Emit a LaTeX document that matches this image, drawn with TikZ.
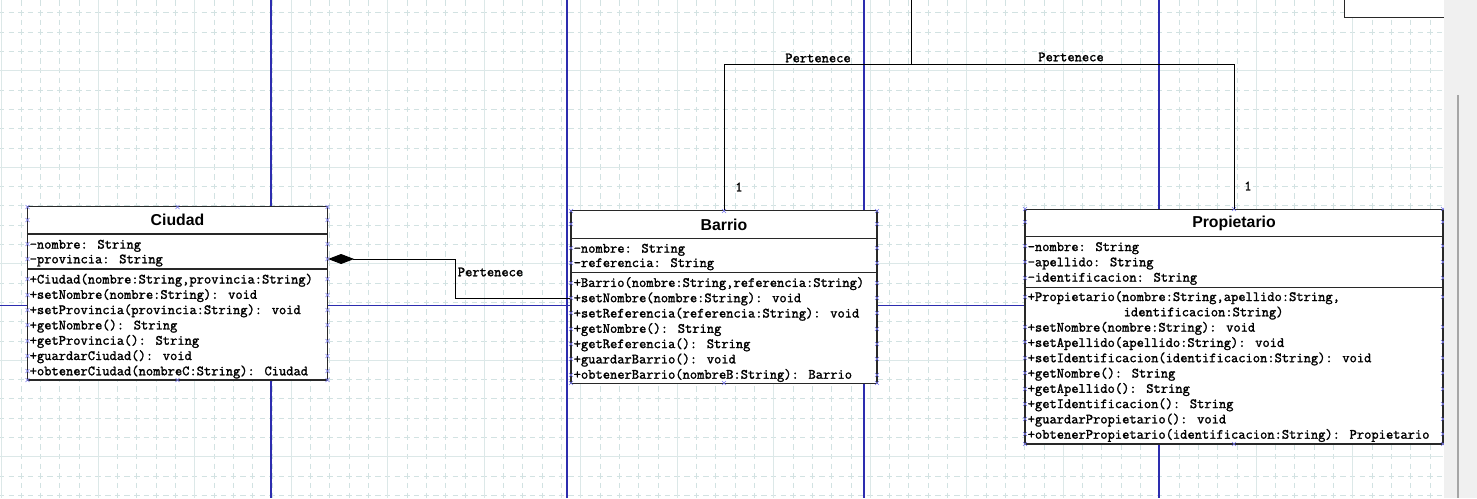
\documentclass[tikz,border=0pt]{standalone}
\usepackage{fontspec}
\setmainfont{Liberation Sans}
\newfontfamily\umlmono[FakeBold=1.6]{Latin Modern Mono}
\usetikzlibrary{arrows.meta}

\definecolor{gridmin}{RGB}{210,226,226}
\definecolor{gridmaj}{RGB}{220,232,232}
\definecolor{pagebl}{RGB}{45,45,175}
\definecolor{boxln}{RGB}{40,40,40}
\definecolor{hmk}{RGB}{120,120,235}
\definecolor{panelgr}{RGB}{240,240,240}

\begin{document}
\begin{tikzpicture}[x=1pt, y=-1pt,
  classbox/.style={draw=boxln, line width=1.2pt, fill=white, inner sep=0pt},
  sepline/.style={draw=boxln, line width=1.2pt},
  classname/.style={font=\bfseries\fontsize{15.8}{18}\selectfont, inner sep=0pt},
  member/.style={font=\umlmono\fontsize{14.1}{15}\selectfont, anchor=base west, inner sep=0pt},
  lbl/.style={font=\umlmono\fontsize{14.1}{15}\selectfont, inner sep=0pt},
  assoc/.style={draw=black, line width=1pt},
  comp/.style={assoc, -{Diamond[length=26pt,width=10pt]}},
  pagebreak/.style={draw=pagebl, line width=1.3pt},
  hmark/.style={draw=hmk, line width=0.6pt},
  minorx/.style={draw=gridmin, line width=0.8pt, dash pattern=on 5.5pt off 4.15pt, dash phase=9.25pt},
  minory/.style={draw=gridmin, line width=0.8pt, dash pattern=on 5.5pt off 4.15pt, dash phase=1.05pt},
  major/.style={draw=gridmaj, line width=0.9pt}]
  \useasboundingbox (0,0) rectangle (1477,498);
  \clip (0,0) rectangle (1477,498);
  \fill[white] (0,0) rectangle (1477,498);

  % grid
  \foreach \i in {0,...,74}
    \draw[minorx] ({1.7+19.3*\i},0) -- ({1.7+19.3*\i},498);
  \foreach \j in {0,...,25}
    \draw[minory] (0,{12.8+19.3*\j}) -- (1443,{12.8+19.3*\j});
  \foreach \i in {0,...,14}
    \draw[major] ({1.7+96.5*\i},0) -- ({1.7+96.5*\i},498);
  \foreach \j in {0,...,4}
    \draw[major] (0,{70.7+96.5*\j}) -- (1443,{70.7+96.5*\j});

  % page breaks
  \foreach \xx in {271,567,864,1159}
    \draw[pagebreak] (\xx,0) -- (\xx,498);
  \draw[pagebreak] (0,305.5) -- (1443,305.5);

  % classes
  \node[classbox, minimum width=130pt, minimum height=100pt, anchor=south west] (otra) at (1344,17.7) {};
  \node[classbox, minimum width=300pt, minimum height=173.3pt] (ciudad) at (177.5,293.4) {};
  \node[classbox, minimum width=306pt, minimum height=172.6pt] (barrio) at (724,297) {};
  \node[classbox, minimum width=418pt, minimum height=234.7pt] (prop) at (1234,326.7) {};

  \draw[sepline] (ciudad.west |- 0,234) -- (ciudad.east |- 0,234);
  \draw[sepline] (ciudad.west |- 0,269) -- (ciudad.east |- 0,269);
  \draw[sepline] (barrio.west |- 0,238.3) -- (barrio.east |- 0,238.3);
  \draw[sepline] (barrio.west |- 0,272.7) -- (barrio.east |- 0,272.7);
  \draw[sepline] (prop.west |- 0,236.7) -- (prop.east |- 0,236.7);
  \draw[sepline] (prop.west |- 0,287.3) -- (prop.east |- 0,287.3);

  % class names
  \node[classname] (ciudad-name) at (177.5,220.3) {Ciudad};
  \node[classname] (barrio-name) at (724,224.5) {Barrio};
  \node[classname] (prop-name) at (1234,223) {Propietario};

  % Ciudad members
  \foreach \t [count=\i] in {{-nombre: String},{-provincia: String}}
    \node[member] (ciudad-at\i) at (29.5,{248.6+14.7*(\i-1)}) {\t};
  \foreach \t [count=\i] in {{+Ciudad(nombre:String,provincia:String)},{+setNombre(nombre:String): void},{+setProvincia(provincia:String): void},{+getNombre(): String},{+getProvincia(): String},{+guardarCiudad(): void},{+obtenerCiudad(nombreC:String): Ciudad}}
    \node[member] (ciudad-op\i) at (29.5,{283.5+15.3*(\i-1)}) {\t};

  % Barrio members
  \foreach \t [count=\i] in {{-nombre: String},{-referencia: String}}
    \node[member] (barrio-at\i) at (573.5,{252.6+14.4*(\i-1)}) {\t};
  \foreach \t [count=\i] in {{+Barrio(nombre:String,referencia:String)},{+setNombre(nombre:String): void},{+setReferencia(referencia:String): void},{+getNombre(): String},{+getReferencia(): String},{+guardarBarrio(): void},{+obtenerBarrio(nombreB:String): Barrio}}
    \node[member] (barrio-op\i) at (573.5,{286.9+15.3*(\i-1)}) {\t};

  % Propietario members
  \foreach \t [count=\i] in {{-nombre: String},{-apellido: String},{-identificacion: String}}
    \node[member] (prop-at\i) at (1027.5,{251+15.3*(\i-1)}) {\t};
  \node[member] (prop-op1) at (1027.5,301) {+Propietario(nombre:String,apellido:String,};
  \node[member] (prop-op1b) at (1123.5,316.3) {identificacion:String)};
  \foreach \t [count=\i from 2] in {{+setNombre(nombre:String): void},{+setApellido(apellido:String): void},{+setIdentificacion(identificacion:String): void},{+getNombre(): String},{+getApellido(): String},{+getIdentificacion(): String},{+guardarPropietario(): void},{+obtenerPropietario(identificacion:String): Propietario}}
    \node[member] (prop-op\i) at (1027.5,{331.6+15.3*(\i-2)}) {\t};

  % handles
  \foreach \yy in {207,220,244,259,279,295,310,325,341,356,371,380}
    \foreach \xx in {27.5,327.5}
      \draw[hmark] (\xx,\yy) +(-2,-2) -- +(2,2) +(-2,2) -- +(2,-2);
  \foreach \yy in {211,224,248,263,283,298,313,329,344,359,375,383}
    \foreach \xx in {571,877}
      \draw[hmark] (\xx,\yy) +(-2,-2) -- +(2,2) +(-2,2) -- +(2,-2);
  \foreach \yy in {209,222,246,262,278,297,327,342,358,373,389,404,419,434,444}
    \foreach \xx in {1025,1443}
      \draw[hmark] (\xx,\yy) +(-2,-2) -- +(2,2) +(-2,2) -- +(2,-2);
  \foreach \xx/\yy in {177.5/207,177.5/380,724/211,724/383,1234/209,1234/444}
    \draw[hmark] (\xx,\yy) +(-2,-2) -- +(2,2) +(-2,2) -- +(2,-2);

  % associations
  \coordinate (up) at (911,0);
  \coordinate (junc) at (911,64);
  \draw[assoc] (up) -- (junc) -| (barrio.north);
  \draw[assoc] (junc) -| (prop.north);
  \coordinate (bend) at (455,259);
  \draw[comp] (barrio.west |- 0,298) -| (bend) -- (ciudad.east |- bend);

  \node[lbl] (pert-barrio) at (818,58) {Pertenece};
  \node[lbl] (pert-prop) at (1071,57) {Pertenece};
  \node[lbl] (pert-ciudad) at (490.5,272) {Pertenece};
  \node[lbl] (mult-barrio) at (739,187) {1};
  \node[lbl] (mult-prop) at (1248,186) {1};

  % scroll bar
  \fill[panelgr] (1444,0) rectangle (1477,498);
  \draw[draw=gray!70, line width=1.8pt] (1458,95) -- (1458,498);
\end{tikzpicture}
\end{document}
